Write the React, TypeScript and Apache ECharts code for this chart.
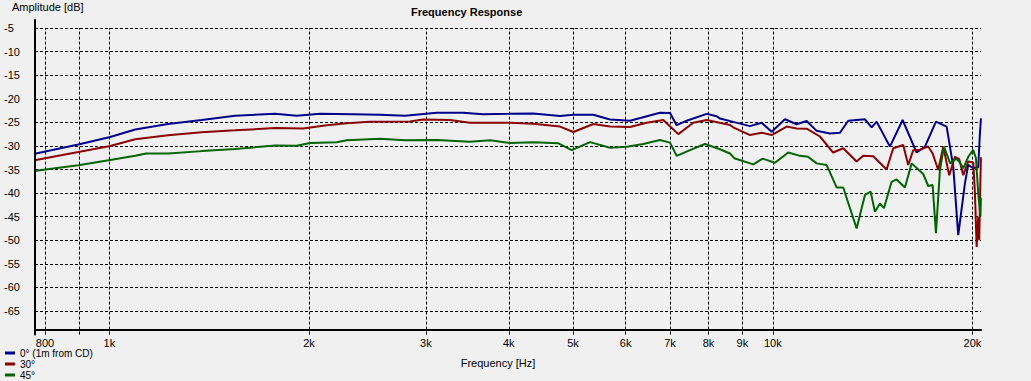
import React, { useEffect, useRef } from 'react';
import * as echarts from 'echarts';

// Vertical grid lines (Hz) and their labels
const gridFreqs = [800, 900, 1000, 2000, 3000, 4000, 5000, 6000, 7000, 8000, 9000, 10000, 20000];
const gridLabels = ['800', '', '1k', '2k', '3k', '4k', '5k', '6k', '7k', '8k', '9k', '10k', '20k'];

const seriesNames = ['0° (1m from CD)', '30°', '45°'];
const seriesColors = ['#00008b', '#8b0000', '#006400'];

// 0° (1m from CD)
const freq0 = [775, 898, 1003, 1094, 1226, 1378, 1547, 1778, 1916, 2078,
  2330, 2558, 2790, 3117, 3413, 3658, 4017, 4355, 4779, 5005,
  5365, 5685, 6093, 6761, 7000, 7164, 7417, 7950, 8231, 8326,
  8719, 9239, 9622, 9962, 10432, 10864, 11248, 11645, 12194, 12625,
  12994, 13378, 13770, 14094, 14340, 15017, 15694, 16476, 16958, 17618,
  18284, 18708, 19035, 19484, 19708, 20053, 20404, 20510, 20596];
const db0 = [-31.6, -29.7, -28.1, -26.5, -25.35, -24.5, -23.6, -23.2, -23.6, -23.2,
  -23.3, -23.4, -23.6, -22.95, -22.95, -23.3, -23.2, -23.1, -23.65, -23.4,
  -23.4, -24.4, -24.65, -22.95, -23.0, -25.6, -24.65, -23.2, -23.7, -24.2,
  -24.9, -25.8, -25.1, -27.0, -24.35, -25.4, -24.7, -26.8, -27.35, -27.2,
  -24.65, -24.5, -24.35, -26.05, -24.85, -30.15, -24.5, -31.4, -30.15, -24.85,
  -25.9, -34.4, -48.9, -37.9, -34.0, -34.7, -34.5, -28.0, -24.15];

// 30°
const freq30 = [775, 898, 1003, 1094, 1226, 1378, 1547, 1778, 1959, 2127,
  2279, 2471, 2839, 2970, 3262, 3496, 4017, 4355, 4779, 5005,
  5365, 5685, 6093, 6456, 6839, 7204, 7589, 7950, 8620, 8719,
  9239, 9622, 9962, 10494, 10864, 11248, 11779, 12334, 12770, 13378,
  13688, 14173, 14845, 15189, 15727, 16002, 16282, 16666, 17153, 17417,
  17759, 18070, 18450, 18818, 19102, 19369, 19708, 20053, 20172, 20291,
  20404, 20475, 20560, 20596];
const db30 = [-33.0, -31.3, -30.0, -28.6, -27.75, -27.1, -26.7, -26.2, -26.3, -25.6,
  -25.2, -24.85, -24.8, -24.4, -24.5, -25.1, -25.1, -25.3, -25.9, -27.05,
  -25.35, -25.9, -26.0, -25.1, -24.5, -27.5, -25.1, -24.5, -25.55, -26.05,
  -27.7, -27.2, -27.7, -25.9, -26.3, -26.35, -28.0, -31.4, -30.5, -33.3,
  -32.1, -32.2, -35.0, -30.5, -29.8, -34.05, -30.9, -30.8, -30.1, -31.6,
  -35.1, -30.15, -36.2, -32.3, -32.8, -36.2, -33.3, -33.5, -40.05, -51.4,
  -45.0, -50.0, -36.9, -32.4];

// 45°
const freq45 = [775, 898, 1003, 1094, 1136, 1226, 1378, 1547, 1778, 1916,
  2007, 2202, 2279, 2558, 2790, 3117, 3496, 3748, 4017, 4355,
  4751, 4978, 5304, 5685, 6024, 6381, 6761, 7000, 7164, 7503,
  7903, 8326, 8620, 8750, 9346, 9656, 10077, 10552, 10990, 11300,
  11645, 12056, 12482, 12770, 13378, 13770, 14045, 14256, 14506, 14708,
  15106, 15370, 15820, 16193, 16858, 17153, 17417, 17618, 17864, 18114,
  18511, 18884, 19102, 19369, 19708, 20053, 20242, 20404, 20560, 20596];
const db45 = [-35.25, -34.1, -33.0, -32.1, -31.6, -31.6, -31.1, -30.65, -29.9, -29.95,
  -29.4, -29.2, -28.8, -28.5, -28.8, -28.75, -29.1, -28.8, -29.4, -29.2,
  -29.45, -30.9, -29.2, -30.4, -30.15, -29.6, -28.75, -29.3, -32.1, -30.9,
  -29.6, -30.7, -31.6, -32.6, -33.9, -32.7, -33.55, -31.4, -32.1, -32.3,
  -33.7, -34.05, -38.8, -38.8, -47.5, -40.4, -39.7, -43.95, -42.2, -43.2,
  -37.6, -37.1, -38.8, -33.7, -35.95, -38.5, -38.3, -48.5, -35.1, -30.15,
  -33.7, -32.7, -33.3, -34.75, -32.3, -30.85, -32.6, -40.05, -45.0, -41.0];

const FONT = 'Liberation Sans';

export default function App() {
  const ref = useRef<HTMLDivElement>(null);
  useEffect(() => {
    const chart = echarts.init(ref.current!, null, { renderer: 'svg' });
    const pairs = (f: number[], v: number[]) => f.map((x, i) => [x, v[i]]);
    const freqs = [freq0, freq30, freq45];
    const dbs = [db0, db30, db45];
    chart.setOption({
      animation: false,
      backgroundColor: '#f0f0f0',
      textStyle: { fontFamily: FONT, color: '#000' },
      title: [
        {
          text: 'Frequency Response', left: 411, top: 6, padding: 0,
          textStyle: { fontFamily: FONT, fontSize: 11, fontWeight: 'bold', color: '#000' },
        },
        {
          text: 'Amplitude [dB]', left: 12, top: 1, padding: 0,
          textStyle: { fontFamily: FONT, fontSize: 11, fontWeight: 'normal', color: '#000' },
        },
      ],
      legend: {
        orient: 'vertical', left: 5, top: 348, padding: 0,
        itemWidth: 10, itemHeight: 3, itemGap: 1, icon: 'rect',
        data: seriesNames,
        textStyle: { fontFamily: FONT, fontSize: 10, color: '#000', lineHeight: 10 },
      },
      grid: { left: 35, right: 50, top: 20, bottom: 46.4, containLabel: false },
      xAxis: {
        type: 'log', logBase: 10, min: 772.6, max: 20600, offset: -4.6,
        axisLine: { show: true, onZero: false, lineStyle: { color: '#000', width: 2 } },
        axisTick: { show: false }, axisLabel: { show: false },
        splitLine: { show: false }, minorTick: { show: false }, minorSplitLine: { show: false },
        name: 'Frequency [Hz]', nameLocation: 'middle', nameGap: 27,
        nameTextStyle: { fontFamily: FONT, fontSize: 11, color: '#000', padding: [0, 20, 0, 0] },
      },
      yAxis: {
        type: 'value', min: -70, max: -3.3, interval: 5,
        axisLine: { show: true, onZero: false, lineStyle: { color: '#000', width: 2 } },
        axisTick: { show: false },
        axisLabel: {
          align: 'left', margin: 31, fontFamily: FONT, fontSize: 11, color: '#000',
          formatter: (v: number) => (Math.abs(v % 5) < 1e-6 && v > -70 && v <= -5 ? String(v) : ''),
        },
        splitLine: {
          show: true, showMinLine: false, showMaxLine: false,
          lineStyle: { type: [3, 2], color: '#000', width: 1 },
        },
      },
      series: [
        ...seriesNames.map((name, i) => ({
          name, type: 'line', data: pairs(freqs[i], dbs[i]),
          showSymbol: false, symbol: 'none', silent: true,
          color: seriesColors[i],
          lineStyle: { color: seriesColors[i], width: 2 },
          z: 3,
        })),
        {
          name: 'grid', type: 'line', data: [], silent: true, z: 1,
          markLine: {
            silent: true, z: 1, animation: false, symbol: ['none', 'none'],
            lineStyle: { color: '#000', type: [3, 2], width: 1 },
            label: { show: true, position: 'start', formatter: '{b}', distance: 3, fontFamily: FONT, fontSize: 11, color: '#000' },
            emphasis: { disabled: true },
            data: gridFreqs.map((f, i) => [
              { name: gridLabels[i], coord: [f, -70] },
              { coord: [f, -5] },
            ]),
          },
        },
      ],
    });
    return () => chart.dispose();
  }, []);
  return <div ref={ref} style={{ position: 'fixed', left: 0, top: 0, width: 1031, height: 381 }} />;
}
